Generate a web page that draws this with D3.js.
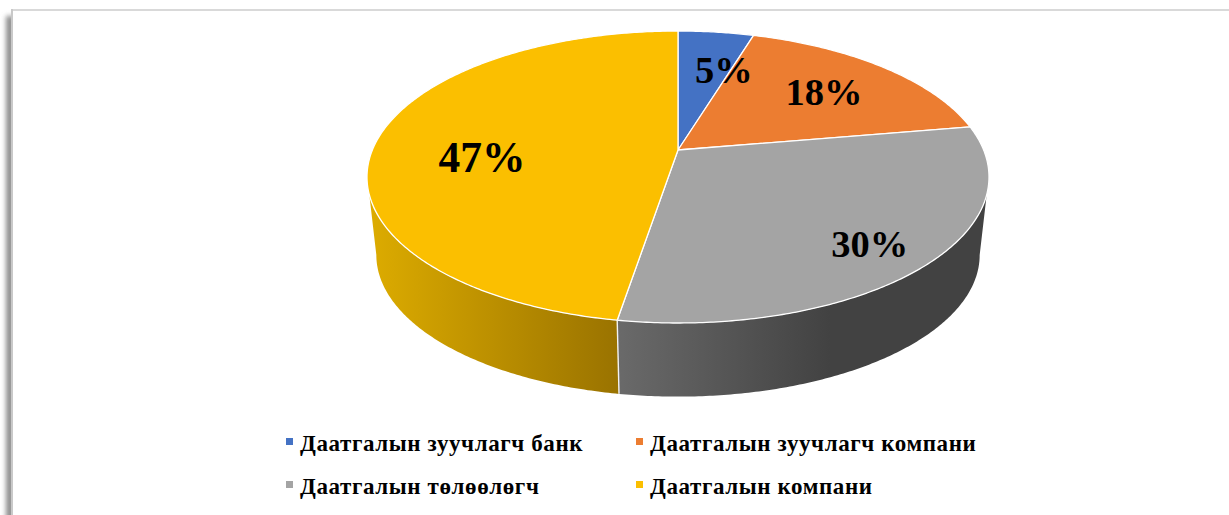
<!DOCTYPE html>
<html>
<head>
<meta charset="utf-8">
<script src="https://cdn.jsdelivr.net/npm/d3@7"></script>
<style>
html,body{margin:0;padding:0;background:#fff;overflow:hidden}
svg{display:block}
text{font-family:"Liberation Serif",serif;font-weight:bold;fill:#000}
</style>
</head>
<body>
<script>
// Data (label = rounded share)
const categories = ["Даатгалын зуучлагч банк","Даатгалын зуучлагч компани","Даатгалын төлөөлөгч","Даатгалын компани"];
const shares = [4.7, 17.6, 30.3, 47.4];
const colors = ["#4472C4","#EC7D31","#A4A4A4","#FBBF00"];

// Layout
const W = 1229, H = 515;
const cx = 678, apexY = 150, ellipseCy = 177, rx = 311, yFar = 119, yNear = 173;
const persp = (yNear - yFar) / (yNear + yFar);
const aY = yFar * (1 + persp);
const aX = rx * Math.sqrt(1 - persp * persp);
const depthScale = 0.97, depthCentre = 255;
const wallEdges = {topRight: 107.5, botRight: 100.7};
const labelSpots = [{r:0.64, dx:20, dy:0, size:38.5},{r:0.68, dx:2, dy:1, size:38.5},{r:0.8, dx:-2, dy:5, size:38.5},{r:0.65, dx:0, dy:14, size:43.5}];

function project(theta, r = 1) {
  const s = Math.sin(theta) * r, v = -Math.cos(theta) * r, d = 1 - persp * v;
  return [cx + aX * s / d, apexY + aY * v / d];
}
function projectBase(theta) {
  const [x, y] = project(theta);
  return [cx + depthScale * (x - cx), depthCentre + depthScale * (y - ellipseCy)];
}
function arcPts(fn, a, b) {
  const n = Math.max(2, Math.ceil(Math.abs(b - a) / 0.01));
  return d3.range(n + 1).map(i => fn(a + (b - a) * i / n));
}
const toRad = d => d * Math.PI / 180;
const line = d3.line();

const svg = d3.select("body").append("svg").attr("width", W).attr("height", H);
const defs = svg.append("defs");
defs.append("filter").attr("id","blur").attr("x","-200%").attr("width","500%")
  .append("feGaussianBlur").attr("stdDeviation", 2.8);

function gradient(id, x1, x2, stops) {
  const g = defs.append("linearGradient").attr("id", id).attr("gradientUnits","userSpaceOnUse")
    .attr("x1", x1).attr("x2", x2).attr("y1", 0).attr("y2", 0);
  stops.forEach(([o, c]) => g.append("stop").attr("offset", o).attr("stop-color", c));
}
gradient("wallGold", 368, 617, [[0,"#DDAC00"],[1,"#9A7300"]]);
gradient("wallGrey", 617, 830, [[0,"#6A6A6A"],[1,"#424242"]]);

// Page panel with its shadow
svg.append("rect").attr("x", 6).attr("y", 16).attr("width", 8).attr("height", H + 40)
  .attr("fill", "#8c8c8c").attr("filter", "url(#blur)");
svg.append("rect").attr("x", 11).attr("y", 9).attr("width", W).attr("height", H)
  .attr("fill", "#fff");
svg.append("rect").attr("x", 11).attr("y", 9).attr("width", W).attr("height", 2).attr("fill", "#d9d9d9");
svg.append("rect").attr("x", 11).attr("y", 9).attr("width", 2).attr("height", H).attr("fill", "#c9c9c9");

// Pie
const pie = d3.pie().sort(null).value(d => d)(shares);

// Side walls (only the two slices that face the viewer)
function wall(a, b, baseA, baseB, fill) {
  const pts = arcPts(t => project(t), a, b).concat(arcPts(projectBase, baseB, baseA));
  svg.append("path").attr("d", line(pts) + "Z").attr("fill", fill);
}
const greyD = pie[2], goldD = pie[3];
wall(toRad(wallEdges.topRight), greyD.endAngle, toRad(wallEdges.botRight), greyD.endAngle, "url(#wallGrey)");
wall(greyD.endAngle, 2 * Math.PI - toRad(wallEdges.topRight), greyD.endAngle, 2 * Math.PI - toRad(wallEdges.botRight), "url(#wallGold)");
svg.append("path").attr("d", line([project(greyD.endAngle), projectBase(greyD.endAngle)]))
  .attr("stroke", "#f2f2f2").attr("stroke-width", 1.4).attr("fill", "none");

// Top faces
svg.selectAll("path.slice").data(pie).enter().append("path").attr("class", "slice")
  .attr("d", d => line([[cx, apexY]].concat(arcPts(t => project(t), d.startAngle, d.endAngle))) + "Z")
  .attr("fill", (d, i) => colors[i])
  .attr("stroke", "#fff").attr("stroke-width", 1.3).attr("stroke-linejoin", "round");

// Data labels
svg.selectAll("text.value").data(pie).enter().append("text").attr("class", "value")
  .attr("text-anchor", "middle").attr("dominant-baseline", "central")
  .attr("font-size", (d, i) => labelSpots[i].size)
  .attr("x", (d, i) => project((d.startAngle + d.endAngle) / 2, labelSpots[i].r)[0] + labelSpots[i].dx)
  .attr("y", (d, i) => project((d.startAngle + d.endAngle) / 2, labelSpots[i].r)[1] + labelSpots[i].dy)
  .text(d => Math.round(d.value) + "%");

// Legend
const legendX = d3.scaleOrdinal().domain([0, 1]).range([286, 636]);
const legendY = d3.scaleOrdinal().domain([0, 1]).range([451, 494]);
const items = svg.selectAll("g.legend").data(categories).enter().append("g").attr("class", "legend")
  .attr("transform", (d, i) => `translate(${legendX(i % 2)},${legendY(Math.floor(i / 2))})`);
items.append("rect").attr("x", 0).attr("y", -13).attr("width", 7).attr("height", 7)
  .attr("fill", (d, i) => colors[i]);
items.append("text").attr("x", 14).attr("font-size", 23).attr("letter-spacing", 0.6).text(d => d);
</script>
</body>
</html>
